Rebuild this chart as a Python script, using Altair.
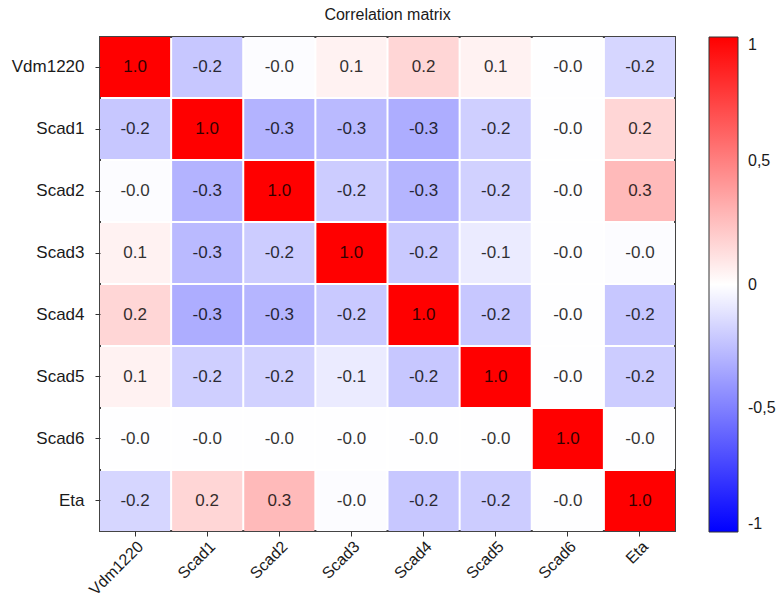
import altair as alt
import pandas as pd

names = ["Vdm1220", "Scad1", "Scad2", "Scad3", "Scad4", "Scad5", "Scad6", "Eta"]

vdm1220 = [1.0, -0.22, -0.01, 0.051, 0.16, 0.051, -0.005, -0.16]
scad1 = [-0.22, 1.0, -0.30, -0.27, -0.32, -0.19, -0.005, 0.16]
scad2 = [-0.01, -0.30, 1.0, -0.20, -0.29, -0.18, -0.005, 0.27]
scad3 = [0.051, -0.27, -0.20, 1.0, -0.21, -0.08, -0.005, -0.01]
scad4 = [0.16, -0.32, -0.29, -0.21, 1.0, -0.22, -0.005, -0.22]
scad5 = [0.051, -0.19, -0.18, -0.08, -0.22, 1.0, -0.005, -0.20]
scad6 = [-0.005, -0.005, -0.005, -0.005, -0.005, -0.005, 1.0, -0.005]
eta = [-0.16, 0.16, 0.27, -0.01, -0.22, -0.20, -0.005, 1.0]

matrix = [vdm1220, scad1, scad2, scad3, scad4, scad5, scad6, eta]

records = []
for i, r in enumerate(names):
    for j, c in enumerate(names):
        v = matrix[i][j]
        records.append({"row": r, "col": c, "value": v, "label": f"{v:.1f}"})
df = pd.DataFrame(records)

FONT = "Liberation Sans"

color_scale = alt.Scale(domain=[-1, 0, 1], range=["#0000ff", "#ffffff", "#ff0000"], interpolate="rgb")

x = alt.X("col:N", sort=names, title=None,
          scale=alt.Scale(paddingInner=0.028, paddingOuter=0),
          axis=alt.Axis(labelAngle=-45, domain=False, tickSize=5, tickColor="#333",
                        labelFontSize=16, labelFont=FONT, labelColor="#1a1a1a", labelPadding=2))
y = alt.Y("row:N", sort=names, title=None,
          scale=alt.Scale(paddingInner=0.032, paddingOuter=0),
          axis=alt.Axis(domain=False, tickSize=5, tickColor="#333",
                        labelFontSize=17, labelFont=FONT, labelColor="#1a1a1a", labelPadding=11))

rect = alt.Chart(df).mark_rect().encode(
    x=x, y=y,
    color=alt.Color("value:Q", scale=color_scale,
                    legend=alt.Legend(orient="none", legendX=609, legendY=0, direction="vertical",
                                      gradientLength=495, gradientThickness=29, title=None,
                                      values=[-1, -0.5, 0, 0.5, 1],
                                      labelExpr="replace(toString(datum.value), '.', ',')",
                                      labelFontSize=16, labelFont=FONT, labelColor="#1a1a1a",
                                      labelOffset=10, labelBaseline="middle", labelOverlap=False,
                                      gradientStrokeColor="#333", gradientStrokeWidth=1, padding=0)),
)

text = alt.Chart(df).mark_text(font=FONT, fontSize=17, color="black", opacity=0.8).encode(
    x=x, y=y, text="label:N"
)

chart = alt.layer(rect, text).properties(
    width=575, height=494,
    title=alt.TitleParams("Correlation matrix", fontSize=16, fontWeight="normal", font=FONT,
                          color="#1a1a1a", anchor="middle", offset=14),
    padding={"left": 100, "top": 37, "right": 102, "bottom": 71},
    autosize=alt.AutoSizeParams(type="none"),
).configure_view(stroke="#444", strokeWidth=2)

chart.save("out.html", embed_options={"renderer": "svg", "actions": False})
